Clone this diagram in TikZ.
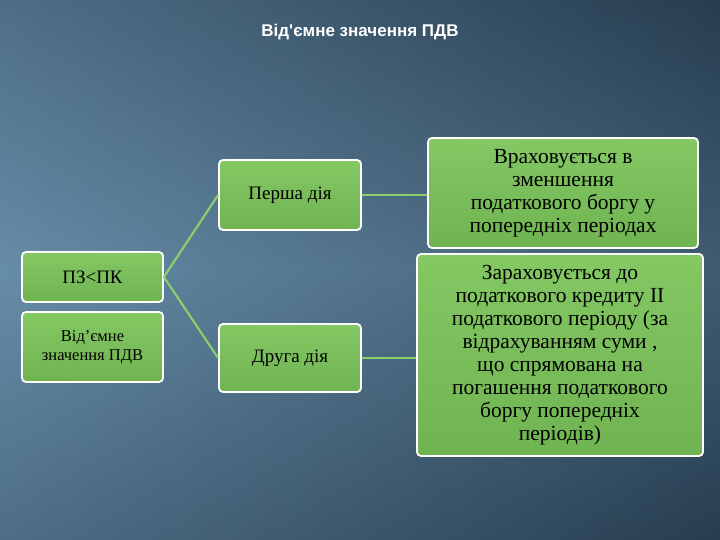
\documentclass[tikz,border=0pt]{standalone}
\usepackage{fontspec}
\setmainfont{Liberation Serif}
\newfontfamily\titlefont{Liberation Sans}
\definecolor{bgA}{RGB}{40,62,80}
\definecolor{bgB}{RGB}{110,150,178}
\definecolor{gTop}{RGB}{132,200,100}
\definecolor{gBot}{RGB}{112,180,82}
\definecolor{gLine}{RGB}{140,205,110}
\begin{document}
\begin{tikzpicture}[x=1pt,y=-1pt,
  gbox/.style={draw=white,line width=1.8pt,rounded corners=4pt,top color=gTop,bottom color=gBot,inner sep=0pt,align=center,text=black},
  conn/.style={draw=gLine,line width=2.2pt}]
\useasboundingbox (0,0) rectangle (720,540);
\fill[bgA] (0,0) rectangle (720,540);
\shade[left color=bgB,right color=bgA,opacity=0.85] (0,0) rectangle (720,540);
\shade[top color=bgA,bottom color=bgA,middle color=bgB,opacity=0.35] (0,0) rectangle (720,540);
\node[text=white,font=\titlefont\bfseries\fontsize{17}{20}\selectfont] (title) at (360,32) {Від\char"0027ємне значення ПДВ};
\node[gbox,minimum width=141,minimum height=50,font=\fontsize{19}{22}\selectfont] (pz) at (92.5,277) {ПЗ<ПК};
\node[gbox,minimum width=141,minimum height=70,font=\fontsize{16.5}{19}\selectfont] (vid) at (92.5,347) {Від\char"0027ємне\\значення ПДВ};
\node[gbox,minimum width=142,minimum height=70,font=\fontsize{19}{22}\selectfont] (p1) at (290,195) {Перша дія};
\node[gbox,minimum width=142,minimum height=68,font=\fontsize{19}{22}\selectfont] (p2) at (290,358) {Друга дія};
\node[gbox,minimum width=270,minimum height=110,font=\fontsize{21.5}{23}\selectfont] (r1) at (563,193) {Враховується в\\зменшення\\податкового боргу у\\попередніх періодах};
\node[gbox,minimum width=286,minimum height=202,font=\fontsize{21.5}{23}\selectfont] (r2) at (560,355) {Зараховується до\\податкового кредиту ІІ\\податкового періоду (за\\відрахуванням суми ,\\що спрямована на\\погашення податкового\\боргу попередніх\\періодів)};
\draw[conn] (pz.east) -- (p1.west);
\draw[conn] (pz.east) -- (p2.west);
\draw[conn] (p1.east) -- (p1.east -| r1.west);
\draw[conn] (p2.east) -- (p2.east -| r2.west);
\end{tikzpicture}
\end{document}
